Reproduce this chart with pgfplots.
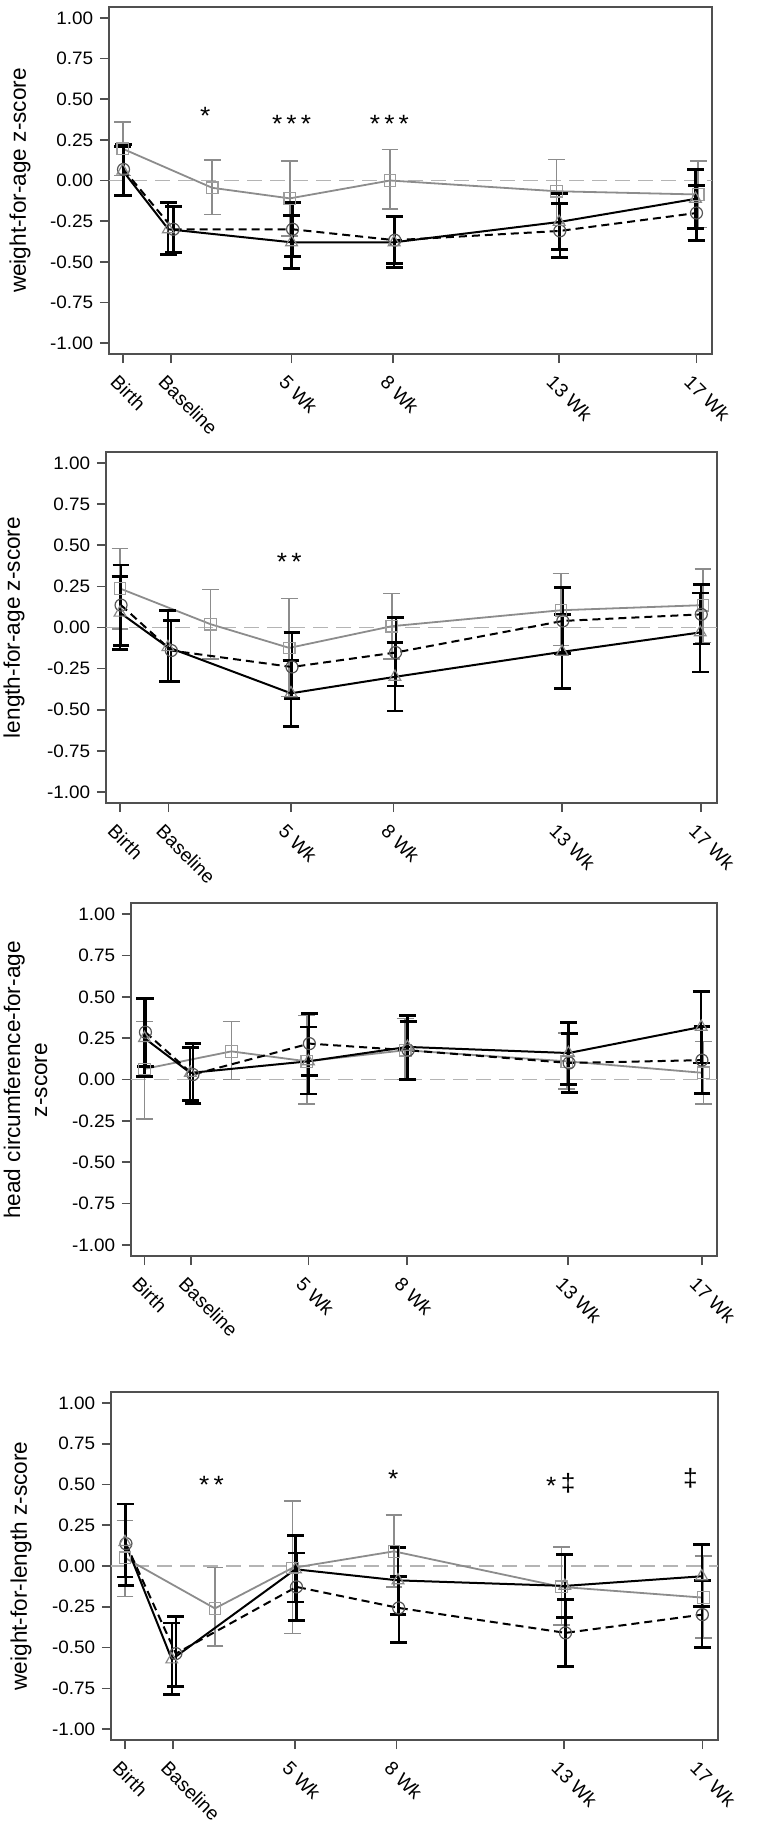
\documentclass[border=0pt]{standalone}
\usepackage{fontspec}
\setmainfont{Liberation Sans}
\newfontfamily\tickfam[FakeStretch=1.05]{Liberation Sans}
\usepackage{pgfplots}
\pgfplotsset{compat=1.18}
\definecolor{grayser}{HTML}{8C8C8C}
\definecolor{zeroline}{HTML}{B4B4B4}
\definecolor{axisgray}{HTML}{505050}
\definecolor{marktri}{HTML}{8A8A8A}
\definecolor{markcirc}{HTML}{555555}
\newcommand{\tickfont}{\tickfam\fontsize{9}{10.5}\selectfont}
\newcommand{\xtickfont}{\fontsize{9.6}{11}\selectfont}
\newcommand{\labfont}{\fontsize{11.3}{13.5}\selectfont}
\newcommand{\starfont}{\tickfam\fontsize{12.5}{14}\selectfont}
\pgfplotsset{
  panel/.style={
    scale only axis,
    anchor=south west,
    xmin=-0.41, xmax=17.46,
    ymin=-1.067, ymax=1.067,
    xtick={0,1.42,5,8,12.92,17},
    xticklabels={Birth,Baseline,5 Wk,8 Wk,13 Wk,17 Wk},
    ytick={-1,-0.75,-0.5,-0.25,0,0.25,0.5,0.75,1},
    yticklabel style={/pgf/number format/fixed, /pgf/number format/fixed zerofill, /pgf/number format/precision=2, /pgf/number format/assume math mode=true,
      font=\tickfont, anchor=east, inner sep=0pt, xshift=-3.25pt},
    xticklabel style={font=\xtickfont, inner sep=0pt, xshift=-1.75pt, yshift=-5.15pt, rotate=-45, anchor=north west},
    axis line style={axisgray, line width=1pt},
    tick style={axisgray, line width=0.8pt},
    tick align=outside,
    major tick length=4.5pt,
    xtick pos=left, ytick pos=left,
    clip=false,
  },
  sgray/.style={color=grayser, line width=0.9pt, mark=square, mark size=2.9pt,
    mark options={solid, line width=0.6pt, draw=grayser!85!white, fill=none},
    error bars/y dir=both, error bars/y explicit,
    error bars/error bar style={line width=0.8pt, solid, grayser},
    error bars/error mark options={rotate=90, mark size=4.2pt, line width=0.8pt, solid, grayser}},
  scirc/.style={color=black, line width=1pt, dash pattern=on 4pt off 2.5pt, mark=o, mark size=3pt,
    mark options={solid, line width=0.6pt, draw=markcirc, fill=none},
    error bars/y dir=both, error bars/y explicit,
    error bars/error bar style={line width=1.1pt, solid, black},
    error bars/error mark options={rotate=90, mark size=4.2pt, line width=1.4pt, solid, black}},
  stri/.style={color=black, line width=1pt, solid, mark=triangle, mark size=3.4pt,
    mark options={solid, line width=0.6pt, draw=marktri, fill=none},
    error bars/y dir=both, error bars/y explicit,
    error bars/error bar style={line width=1.1pt, solid, black},
    error bars/error mark options={rotate=90, mark size=4.2pt, line width=1.4pt, solid, black}},
  zline/.style={zeroline, line width=0.9pt, dash pattern=on 7.5pt off 4pt, forget plot},
}
\begin{document}
\begin{tikzpicture}
\path[use as bounding box] (0,0) rectangle (378pt,-912.5pt);

% ---------------- Panel 1: weight-for-age
\begin{axis}[panel, at={(54.5pt,-177pt)}, width=301.5pt, height=173.5pt]
\addplot[zline] coordinates {(-0.41,0) (17.46,0)};
\addplot[sgray] table[x=x, y=y, y error plus expr=\thisrow{hi}-\thisrow{y}, y error minus expr=\thisrow{y}-\thisrow{lo}] {
x y lo hi
0 0.195 0.03 0.36
2.65 -0.045 -0.21 0.127
4.95 -0.11 -0.34 0.12
7.92 0.0 -0.174 0.19
12.85 -0.066 -0.265 0.13
17.05 -0.086 -0.29 0.119
};
\addplot[scirc] table[x=x, y=y, y error plus expr=\thisrow{hi}-\thisrow{y}, y error minus expr=\thisrow{y}-\thisrow{lo}] {
x y lo hi
0.02 0.068 -0.09 0.22
1.5 -0.30 -0.445 -0.16
5.03 -0.30 -0.467 -0.137
8.06 -0.367 -0.512 -0.22
12.95 -0.31 -0.475 -0.14
17.0 -0.20 -0.367 -0.03
};
\addplot[stri] table[x=x, y=y, y error plus expr=\thisrow{hi}-\thisrow{y}, y error minus expr=\thisrow{y}-\thisrow{lo}] {
x y lo hi
0 0.06 -0.09 0.21
1.35 -0.30 -0.455 -0.133
5.0 -0.38 -0.54 -0.213
8.04 -0.38 -0.533 -0.22
12.93 -0.255 -0.424 -0.08
16.97 -0.113 -0.295 0.068
};
\node[font=\starfont, anchor=base] at (axis cs:2.44,0.345) {*};
\node[font=\starfont, anchor=base] at (axis cs:5.0,0.295) {*\,*\,*};
\node[font=\starfont, anchor=base] at (axis cs:7.9,0.295) {*\,*\,*};
\end{axis}
\node[rotate=90, font=\labfont] at (10pt,-90.25pt) {weight-for-age z-score};

% ---------------- Panel 2: length-for-age
\begin{axis}[panel, at={(53pt,-401.5pt)}, width=305.5pt, height=175.5pt]
\addplot[zline] coordinates {(-0.41,0) (17.46,0)};
\addplot[sgray] table[x=x, y=y, y error plus expr=\thisrow{hi}-\thisrow{y}, y error minus expr=\thisrow{y}-\thisrow{lo}] {
x y lo hi
0 0.237 -0.01 0.48
2.65 0.02 -0.19 0.23
4.95 -0.124 -0.42 0.176
7.95 0.008 -0.19 0.207
12.9 0.105 -0.11 0.328
17.05 0.136 -0.09 0.355
};
\addplot[scirc] table[x=x, y=y, y error plus expr=\thisrow{hi}-\thisrow{y}, y error minus expr=\thisrow{y}-\thisrow{lo}] {
x y lo hi
0.03 0.136 -0.11 0.38
1.5 -0.14 -0.326 0.045
5.03 -0.24 -0.43 -0.03
8.06 -0.152 -0.355 0.06
12.95 0.04 -0.16 0.243
17.0 0.08 -0.10 0.263
};
\addplot[stri] table[x=x, y=y, y error plus expr=\thisrow{hi}-\thisrow{y}, y error minus expr=\thisrow{y}-\thisrow{lo}] {
x y lo hi
0 0.09 -0.134 0.31
1.4 -0.12 -0.33 0.105
5.0 -0.40 -0.60 -0.20
8.04 -0.30 -0.507 -0.09
12.93 -0.148 -0.37 0.08
16.97 -0.03 -0.27 0.21
};
\node[font=\starfont, anchor=base] at (axis cs:4.95,0.345) {*\,*};
\end{axis}
\node[rotate=90, font=\labfont] at (7pt,-313.75pt) {length-for-age z-score};

% ---------------- Panel 3: head circumference-for-age
\begin{axis}[panel, at={(65.5pt,-628pt)}, width=293pt, height=176.5pt]
\addplot[zline] coordinates {(-0.41,0) (17.46,0)};
\addplot[sgray] table[x=x, y=y, y error plus expr=\thisrow{hi}-\thisrow{y}, y error minus expr=\thisrow{y}-\thisrow{lo}] {
x y lo hi
0 0.064 -0.24 0.35
2.65 0.17 0.0 0.35
4.95 0.11 -0.147 0.387
7.95 0.177 0.0 0.37
12.88 0.11 -0.056 0.28
17.05 0.04 -0.147 0.23
};
\addplot[scirc] table[x=x, y=y, y error plus expr=\thisrow{hi}-\thisrow{y}, y error minus expr=\thisrow{y}-\thisrow{lo}] {
x y lo hi
0.03 0.286 0.077 0.49
1.48 0.03 -0.147 0.22
5.03 0.217 0.026 0.40
8.04 0.177 0.0 0.352
12.95 0.10 -0.08 0.28
17.0 0.117 -0.085 0.32
};
\addplot[stri] table[x=x, y=y, y error plus expr=\thisrow{hi}-\thisrow{y}, y error minus expr=\thisrow{y}-\thisrow{lo}] {
x y lo hi
0 0.25 0.02 0.49
1.4 0.04 -0.125 0.195
5.0 0.11 -0.087 0.318
8.02 0.197 0.0 0.389
12.93 0.16 -0.03 0.346
16.98 0.318 0.10 0.53
};
\end{axis}
\node[rotate=90, font=\labfont, align=center] at (12.75pt,-540pt) {head circumference-for-age\\z-score};

% ---------------- Panel 4: weight-for-length
\begin{axis}[panel, at={(55.5pt,-870pt)}, width=303.5pt, height=174pt]
\addplot[zline] coordinates {(-0.41,0) (17.46,0)};
\addplot[sgray] table[x=x, y=y, y error plus expr=\thisrow{hi}-\thisrow{y}, y error minus expr=\thisrow{y}-\thisrow{lo}] {
x y lo hi
0 0.05 -0.186 0.28
2.65 -0.26 -0.49 -0.01
4.93 -0.012 -0.414 0.40
7.92 0.09 -0.13 0.314
12.85 -0.128 -0.363 0.116
17.03 -0.194 -0.44 0.06
};
\addplot[scirc] table[x=x, y=y, y error plus expr=\thisrow{hi}-\thisrow{y}, y error minus expr=\thisrow{y}-\thisrow{lo}] {
x y lo hi
0.03 0.137 -0.118 0.38
1.5 -0.537 -0.737 -0.31
5.05 -0.128 -0.333 0.08
8.06 -0.257 -0.467 -0.063
12.97 -0.41 -0.618 -0.206
17.0 -0.298 -0.50 -0.09
};
\addplot[stri] table[x=x, y=y, y error plus expr=\thisrow{hi}-\thisrow{y}, y error minus expr=\thisrow{y}-\thisrow{lo}] {
x y lo hi
0 0.147 -0.067 0.38
1.38 -0.573 -0.788 -0.35
5.02 -0.02 -0.22 0.186
8.04 -0.088 -0.296 0.116
12.95 -0.122 -0.316 0.07
16.98 -0.063 -0.25 0.13
};
\node[font=\starfont, anchor=base] at (axis cs:2.55,0.445) {*\,*};
\node[font=\starfont, anchor=base] at (axis cs:7.9,0.48) {*};
\node[font=\starfont, anchor=base] at (axis cs:12.55,0.44) {*};
\node[font=\starfont, anchor=base] at (axis cs:13.05,0.455) {‡};
\node[font=\starfont, anchor=base] at (axis cs:16.65,0.49) {‡};
\end{axis}
\node[rotate=90, font=\labfont] at (10.5pt,-783pt) {weight-for-length z-score};
\end{tikzpicture}
\end{document}
